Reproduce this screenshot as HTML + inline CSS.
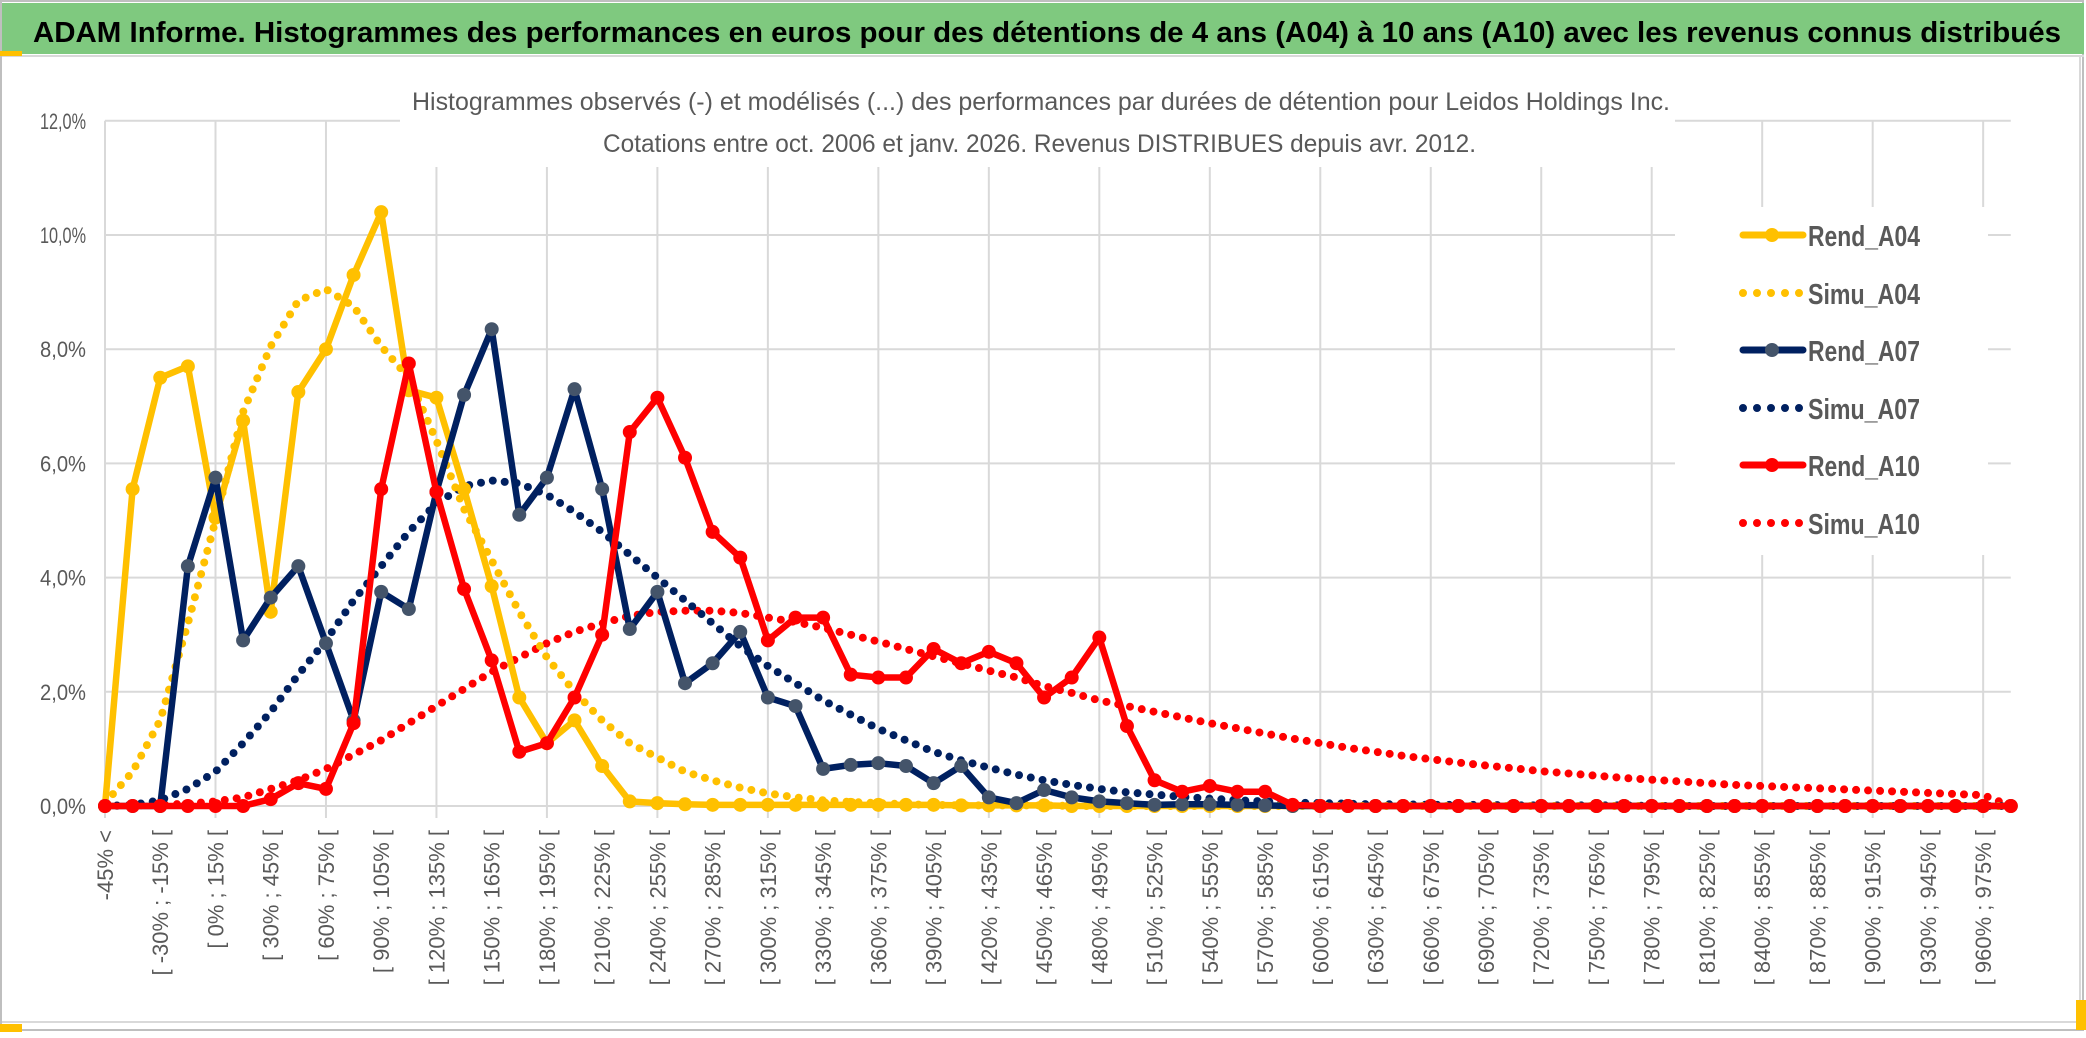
<!DOCTYPE html>
<html><head><meta charset="utf-8">
<style>
html,body{margin:0;padding:0;background:#fff;}
body{width:2086px;height:1033px;overflow:hidden;font-family:"Liberation Sans",sans-serif;}
svg text{font-family:"Liberation Sans",sans-serif;}
</style></head>
<body>
<svg id="chart" width="2086" height="1033" viewBox="0 0 2086 1033" xmlns="http://www.w3.org/2000/svg">
  <rect x="0" y="0" width="2086" height="1033" fill="#fff"/>
  <rect x="1" y="1" width="2082" height="1029" fill="none" stroke="#bfbfbf" stroke-width="2"/>
  <rect x="2" y="3" width="2082" height="51" fill="#7fc97f"/>
  <line x1="2" y1="56" x2="2084" y2="56" stroke="#d9d9d9" stroke-width="2"/>
  <rect x="0" y="51" width="22" height="5" fill="#ffc000"/>
  <text x="33" y="42" font-size="29" font-weight="bold" fill="#000" textLength="2028" lengthAdjust="spacingAndGlyphs">ADAM Informe. Histogrammes des performances en euros pour des détentions de 4 ans (A04) à 10 ans (A10) avec les revenus connus distribués</text>
  <line x1="2" y1="1022" x2="2080" y2="1022" stroke="#d9d9d9" stroke-width="2"/>
  <line x1="2080" y1="56" x2="2080" y2="1022" stroke="#d9d9d9" stroke-width="2"/>
  <rect x="0" y="1024" width="22" height="8" fill="#ffc000"/>
  <rect x="2076" y="1000" width="10" height="30" fill="#ffc000"/>
  <g id="grid"></g>
  <rect x="400" y="60" width="1275" height="107" fill="#fff"/>
  <text x="412" y="110" font-size="25" fill="#595959" textLength="1258" lengthAdjust="spacingAndGlyphs">Histogrammes observés (-) et modélisés (...) des performances par durées de détention pour Leidos Holdings Inc.</text>
  <text x="603" y="152" font-size="25" fill="#595959" textLength="873" lengthAdjust="spacingAndGlyphs">Cotations entre oct. 2006 et janv. 2026. Revenus DISTRIBUES depuis avr. 2012.</text>
  <g id="yticks"></g>
  <g id="xticks"></g>
  <g id="series"></g>
  <g id="legend"></g>
</svg>
<script>
const yTicks = [0, 2, 4, 6, 8, 10, 12];
const yTickLabels = ["0,0%", "2,0%", "4,0%", "6,0%", "8,0%", "10,0%", "12,0%"];
const catStarts = [];
for (let a = -45; a <= 960; a += 15) catStarts.push(a);
const categories = ["-45% <"].concat(catStarts.map(a => "[ " + a + "% ; " + (a + 15) + "% [")).concat(["975% >="]);

const rendA04 = [0,5.55,7.5,7.7,5.05,6.75,3.4,7.25,8.0,9.3,10.4,7.28,7.15,5.55,3.85,1.9,1.1,1.5,0.7,0.08,0.05,0.03,0.02,0.02,0.02,0.02,0.02,0.02,0.02,0.02,0.02,0.01,0.01,0.01,0.01,0,0,0,0,0,0,0,0,0,0,0,0,0,0,0,0,0,0,0,0,0,0,0,0,0,0,0,0,0,0,0,0,0,0,0];
const simuA04 = [0.05,0.6,1.5,3.2,5.0,6.9,8.05,8.85,9.05,8.75,8.05,7.5,6.4,5.2,4.3,3.4,2.6,2.0,1.5,1.1,0.85,0.6,0.45,0.32,0.22,0.15,0.1,0.07,0.05,0.03,0.02,0.01,0.01,0.01,0.01,0,0,0,0,0,0,0,0,0,0,0,0,0,0,0,0,0,0,0,0,0,0,0,0,0,0,0,0,0,0,0,0,0,0,0];
const rendA07 = [0,0,0,4.2,5.75,2.9,3.65,4.2,2.85,1.5,3.75,3.45,5.5,7.2,8.35,5.1,5.75,7.3,5.55,3.1,3.75,2.15,2.5,3.05,1.9,1.75,0.65,0.72,0.75,0.7,0.4,0.7,0.15,0.05,0.28,0.15,0.08,0.05,0.02,0.03,0.03,0.02,0.01,0,0,0,0,0,0,0,0,0,0,0,0,0,0,0,0,0,0,0,0,0,0,0,0,0,0,0];
const simuA07 = [0,0.02,0.1,0.3,0.6,1.1,1.65,2.3,2.9,3.6,4.2,4.8,5.3,5.6,5.7,5.65,5.45,5.15,4.8,4.4,4.0,3.6,3.2,2.8,2.45,2.15,1.85,1.6,1.35,1.15,0.95,0.8,0.67,0.55,0.45,0.37,0.3,0.24,0.2,0.16,0.13,0.1,0.08,0.06,0.05,0.04,0.03,0.03,0.02,0.02,0.02,0.01,0.01,0.01,0.01,0.01,0,0,0,0,0,0,0,0,0,0,0,0,0,0];
const rendA10 = [0,0,0,0,0,0,0.12,0.4,0.3,1.45,5.55,7.75,5.5,3.8,2.55,0.95,1.1,1.9,3.0,6.55,7.15,6.1,4.8,4.35,2.9,3.3,3.3,2.3,2.25,2.25,2.75,2.5,2.7,2.5,1.9,2.25,2.95,1.4,0.45,0.25,0.35,0.25,0.25,0.02,0,0,0,0,0,0,0,0,0,0,0,0,0,0,0,0,0,0,0,0,0,0,0,0,0,0];
const simuA10 = [0,0.01,0.02,0.04,0.08,0.15,0.3,0.45,0.65,0.9,1.15,1.45,1.75,2.05,2.35,2.6,2.85,3.05,3.2,3.33,3.4,3.42,3.42,3.38,3.3,3.22,3.12,3.0,2.88,2.75,2.62,2.5,2.37,2.25,2.1,1.98,1.85,1.75,1.65,1.55,1.45,1.36,1.27,1.18,1.1,1.02,0.95,0.88,0.82,0.76,0.71,0.66,0.61,0.57,0.53,0.49,0.46,0.43,0.4,0.37,0.35,0.33,0.31,0.29,0.27,0.25,0.23,0.21,0.19,0];

const NS = "http://www.w3.org/2000/svg";
const X0 = 105, STEP = 27.62, Y0 = 806, YPX = 57.1;
function xAt(i) { return X0 + i * STEP; }
function yAt(v) { return Y0 - v * YPX; }
function mk(tag, attrs, parent) {
  const e = document.createElementNS(NS, tag);
  for (const k in attrs) e.setAttribute(k, attrs[k]);
  parent.appendChild(e);
  return e;
}
const grid = document.getElementById('grid');
const yg = document.getElementById('yticks');
const xg = document.getElementById('xticks');
const sg = document.getElementById('series');
const lg = document.getElementById('legend');
const xEnd = xAt(categories.length - 1);

yTicks.forEach((t, k) => {
  const l = mk('line', {x1: X0, x2: xEnd, y1: yAt(t), y2: yAt(t), stroke: '#d9d9d9', 'stroke-width': 2}, grid);
  
  
  const tx = mk('text', {x: 86, y: yAt(t) + 8, 'font-size': 22, fill: '#595959', 'text-anchor': 'end', textLength: yTickLabels[k].length > 5 ? 54 : 46, lengthAdjust: 'spacingAndGlyphs'}, yg);
  tx.textContent = yTickLabels[k];
  
  
});
for (let i = 0; i < categories.length - 1; i += 4) {
  const l = mk('line', {x1: xAt(i), x2: xAt(i), y1: yAt(12), y2: Y0 + 12, stroke: '#d9d9d9', 'stroke-width': 2}, grid);
  
  
}
mk('rect', {x: 1675, y: 207, width: 313, height: 348, fill: '#fff'}, grid);

for (let i = 0; i < categories.length - 1; i += 2) {
  const x = xAt(i) + 8;
  const tx = mk('text', {x: x, y: 830, 'font-size': 22, fill: '#595959', 'text-anchor': 'end', transform: 'rotate(-90 ' + x + ' 830)'}, xg);
  tx.textContent = categories[i];
  
  
}

const seriesDefs = [
  {name: 'Simu_A10', data: simuA10, color: '#ff0000', dotted: true},
  {name: 'Simu_A07', data: simuA07, color: '#002060', dotted: true},
  {name: 'Simu_A04', data: simuA04, color: '#ffc000', dotted: true},
  {name: 'Rend_A04', data: rendA04, color: '#ffc000', marker: '#ffc000'},
  {name: 'Rend_A07', data: rendA07, color: '#002060', marker: '#44546a'},
  {name: 'Rend_A10', data: rendA10, color: '#ff0000', marker: '#ff0000'}
];
seriesDefs.forEach(s => {
  const pts = s.data.map((v, i) => xAt(i).toFixed(1) + ',' + yAt(v).toFixed(1)).join(' ');
  const g = mk('g', {}, sg);
  
  
  if (s.dotted) {
    mk('polyline', {points: pts, fill: 'none', stroke: s.color, 'stroke-width': 8, 'stroke-linecap': 'round', 'stroke-dasharray': '0 12'}, g);
  } else {
    mk('polyline', {points: pts, fill: 'none', stroke: s.color, 'stroke-width': 6.5, 'stroke-linejoin': 'round'}, g);
    s.data.forEach((v, i) => {
      const c = mk('circle', {cx: xAt(i), cy: yAt(v), r: 7, fill: s.marker}, g);
      
      
    });
  }
});

const legendOrder = ['Rend_A04', 'Simu_A04', 'Rend_A07', 'Simu_A07', 'Rend_A10', 'Simu_A10'];
const legendY = [235, 293, 350, 408, 465, 523];
legendOrder.forEach((n, k) => {
  const s = seriesDefs.find(d => d.name === n);
  const y = legendY[k];
  const g = mk('g', {}, lg);
  
  
  if (s.dotted) {
    mk('line', {x1: 1743, x2: 1800, y1: y, y2: y, stroke: s.color, 'stroke-width': 8, 'stroke-linecap': 'round', 'stroke-dasharray': '0 14'}, g);
  } else {
    mk('line', {x1: 1743, x2: 1803, y1: y, y2: y, stroke: s.color, 'stroke-width': 7, 'stroke-linecap': 'round'}, g);
    mk('circle', {cx: 1772, cy: y, r: 7, fill: s.marker}, g);
  }
  const tx = mk('text', {x: 1808, y: y + 11, 'font-size': 29, 'font-weight': 'bold', fill: '#595959', textLength: 112, lengthAdjust: 'spacingAndGlyphs'}, g);
  tx.textContent = n;
});
</script>
</body></html>
